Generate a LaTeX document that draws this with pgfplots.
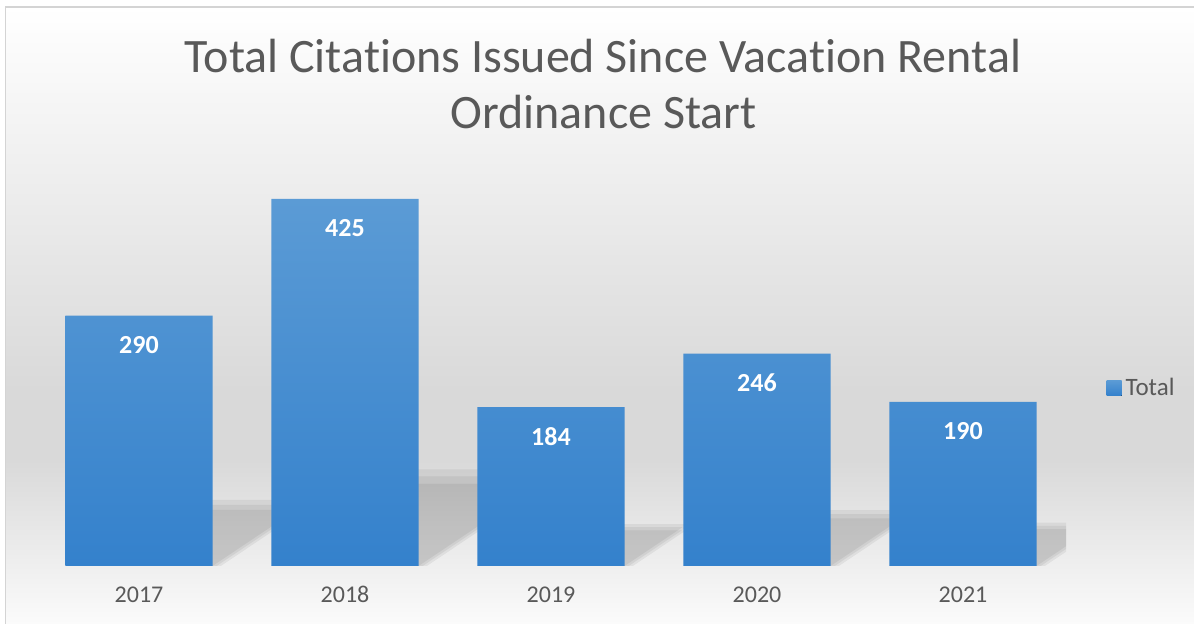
\documentclass[border=0pt]{standalone}
\usepackage{pgfplots}
\pgfplotsset{compat=1.18}
\usepackage{fontspec}
\setmainfont{Carlito}[Ligatures=NoCommon]
\definecolor{barTop}{HTML}{5B9BD5}
\definecolor{barBot}{HTML}{3481CC}
\definecolor{txtGray}{HTML}{595959}
\definecolor{bgGray}{HTML}{D9D9D9}
\definecolor{bgLow}{HTML}{FBFBFB}
\definecolor{borderGray}{HTML}{D4D4D4}
\begin{document}
\begin{tikzpicture}
\useasboundingbox (0,0) rectangle (597pt,312pt);
\fill[white] (0,0) rectangle (597pt,312pt);
\shade[top color=white, bottom color=bgGray] (2.5pt,116.5pt) rectangle (597pt,308.5pt);
\fill[bgGray] (2.5pt,81.5pt) rectangle (597pt,117pt);
\shade[top color=bgGray, bottom color=bgLow] (2.5pt,0pt) rectangle (597pt,82pt);
\draw[borderGray, line width=0.8pt] (2.75pt,0pt) -- (2.75pt,308.5pt) -- (597pt,308.5pt);
\node[anchor=base, font=\fontsize{24}{28}\selectfont, text=txtGray, inner sep=0pt] at (301.5pt,275.6pt) {Total Citations Issued Since Vacation Rental};
\node[anchor=base, font=\fontsize{24}{28}\selectfont, text=txtGray, inner sep=0pt] at (301.75pt,247.5pt) {Ordinance Start};
\begin{axis}[
  at={(18pt,29pt)}, anchor=south west,
  scale only axis, width=515pt, height=194.3pt,
  xmin=-0.5, xmax=4.5, ymin=0, ymax=450,
  axis line style={draw=none}, tick style={draw=none},
  ytick=\empty,
  xtick={0,1,2,3,4},
  xticklabels={2017,2018,2019,2020,2021},
  xticklabel style={anchor=base, yshift=-18.5pt, font=\fontsize{12}{14}\selectfont, text=txtGray},
  /pgf/number format/assume math mode=true,
  legend style={at={(1.039,0.458)}, anchor=west, draw=none, fill=none,
    font=\fontsize{12.5}{14}\selectfont, text=txtGray, inner sep=0pt},
  legend image code/.code={\fill[top color=barTop, bottom color=barBot] (0pt,-3.75pt) rectangle (7.5pt,3.75pt);},
  shadowstyle/.style={fill=black, fill opacity=0.06, draw=none, forget plot},
]
% soft perspective shadows (three layers each)
\addplot[shadowstyle] coordinates {(-0.357,0) (0.397,0) (0.804,65.1) (0.0501,65.1)};
\addplot[shadowstyle] coordinates {(-0.357,0) (0.377,0) (0.8195,70.8) (0.0855,70.8)};
\addplot[shadowstyle] coordinates {(-0.357,0) (0.357,0) (0.8349,76.5) (0.1209,76.5)};
\addplot[shadowstyle] coordinates {(0.643,0) (1.397,0) (1.9937,95.4) (1.2397,95.4)};
\addplot[shadowstyle] coordinates {(0.643,0) (1.377,0) (2.0256,103.7) (1.2916,103.7)};
\addplot[shadowstyle] coordinates {(0.643,0) (1.357,0) (2.0575,112.0) (1.3435,112.0)};
\addplot[shadowstyle] coordinates {(1.643,0) (2.397,0) (2.6553,41.3) (1.9013,41.3)};
\addplot[shadowstyle] coordinates {(1.643,0) (2.377,0) (2.6578,44.9) (1.9238,44.9)};
\addplot[shadowstyle] coordinates {(1.643,0) (2.357,0) (2.6603,48.5) (1.9463,48.5)};
\addplot[shadowstyle] coordinates {(2.643,0) (3.397,0) (3.7424,55.2) (2.9884,55.2)};
\addplot[shadowstyle] coordinates {(2.643,0) (3.377,0) (3.7524,60) (3.0184,60)};
\addplot[shadowstyle] coordinates {(2.643,0) (3.357,0) (3.7624,64.8) (3.0484,64.8)};
\addplot[shadowstyle] coordinates {(3.643,0) (4.397,0) (4.6637,42.7) (3.9097,42.7)};
\addplot[shadowstyle] coordinates {(3.643,0) (4.377,0) (4.6669,46.4) (3.9329,46.4)};
\addplot[shadowstyle] coordinates {(3.643,0) (4.357,0) (4.6701,50.1) (3.9561,50.1)};
% bars
\addplot[ybar, bar width=0.714, draw=none, top color=barTop, bottom color=barBot,
  nodes near coords,
  nodes near coords style={anchor=base, yshift=-19pt, font=\bfseries\fontsize{13}{15}\selectfont, text=white}]
  coordinates {(0,290) (1,425) (2,184) (3,246) (4,190)};
\addlegendentry{Total}
\end{axis}
\end{tikzpicture}
\end{document}
